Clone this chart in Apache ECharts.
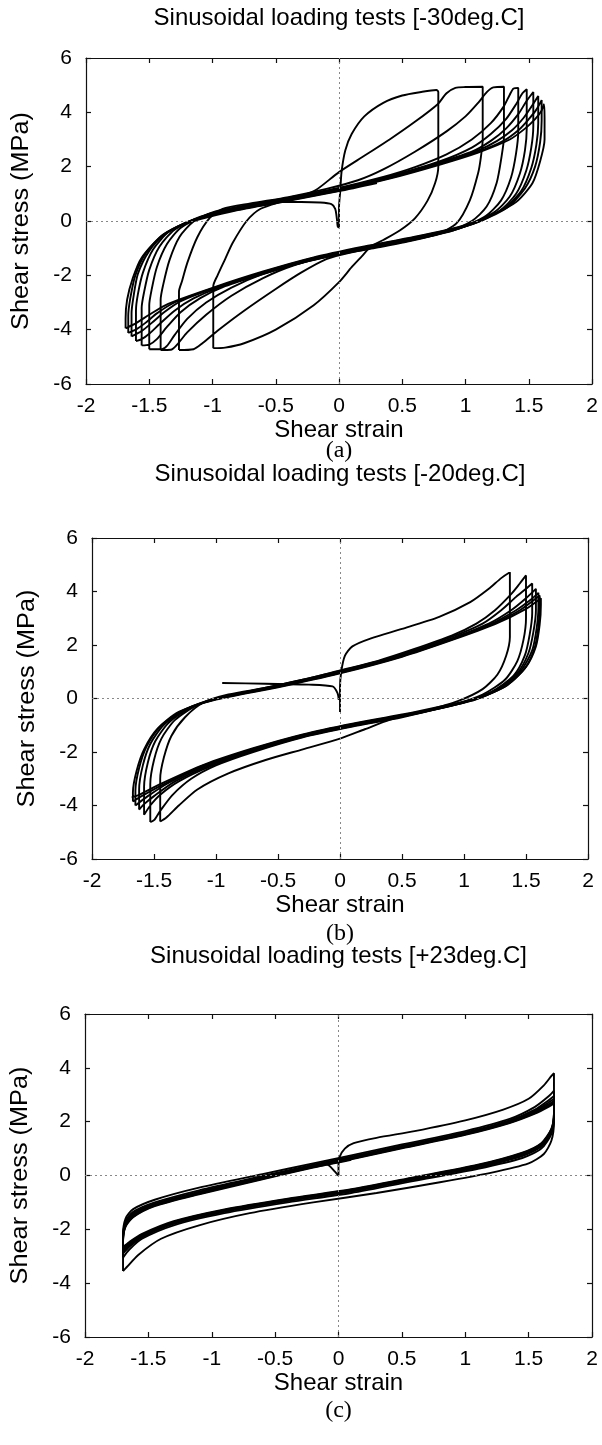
<!DOCTYPE html>
<html><head><meta charset="utf-8">
<script src="https://cdn.jsdelivr.net/npm/echarts@6/dist/echarts.min.js"></script>
<style>html,body{margin:0;padding:0;background:#fff}#c{width:602px;height:1445px}</style>
</head><body><div id="c"></div>
<script>
const panelTitles = ['Sinusoidal loading tests [-30deg.C]','Sinusoidal loading tests [-20deg.C]','Sinusoidal loading tests [+23deg.C]'];
const captions = ['(a)','(b)','(c)'];
const xAxisName = 'Shear strain';
const yAxisName = 'Shear stress (MPa)';
const xTicks = [-2,-1.5,-1,-0.5,0,0.5,1,1.5,2];
const yTicks = [-6,-4,-2,0,2,4,6];

// ---- Panel (a) -30 deg C ----
const a_hook = [[-0.47,0.7],[-0.3,0.7],[-0.15,0.68],[-0.06,0.62],[-0.03,0.45],[-0.02,0.2],[-0.015,0.0],[-0.01,-0.2],[0.0,-0.25]];
const a_c1 = [[0.0,-0.25],[0.0,0.5],[0.01,1.1],[0.02,1.8],[0.05,2.6],[0.1,3.2],[0.2,3.85],[0.35,4.35],[0.5,4.62],[0.65,4.75],[0.77,4.82],[0.785,4.75],[0.785,2.0],[0.76,1.4],[0.7,0.75],[0.6,0.1],[0.48,-0.35],[0.35,-0.7],[0.25,-0.95],[0.18,-1.3],[0.1,-1.7],[0.0,-2.25],[-0.2,-3.1],[-0.5,-4.0],[-0.75,-4.5],[-0.9,-4.66],[-0.994,-4.68]];
const a_c2 = [[-0.994,-4.68],[-0.994,-2.4],[-0.96,-2.0],[-0.9,-1.4],[-0.84,-0.8],[-0.73,0.0],[-0.62,0.45],[-0.45,0.72],[-0.3,0.92],[-0.18,1.15],[0.0,1.8],[0.2,2.4],[0.4,3.0],[0.6,3.65],[0.78,4.3],[0.85,4.7],[0.92,4.9],[1.0,4.93],[1.136,4.94],[1.136,3.0],[1.12,2.3],[1.1,1.77],[1.035,0.77],[0.93,-0.08],[0.78,-0.48],[0.55,-0.75],[0.3,-0.98],[0.1,-1.15],[-0.1,-1.4],[-0.3,-1.9],[-0.5,-2.5],[-0.75,-3.3],[-0.95,-4.0],[-1.08,-4.5],[-1.15,-4.72],[-1.265,-4.75]];
const a_c3 = [[-1.265,-4.75],[-1.265,-2.6],[-1.24,-2.2],[-1.2,-1.55],[-1.12,-0.6],[-1.02,0.12],[-0.92,0.45],[-0.7,0.65],[-0.4,0.88],[-0.1,1.18],[0.15,1.5],[0.35,1.9],[0.6,2.55],[0.85,3.3],[1.0,3.85],[1.1,4.35],[1.17,4.75],[1.22,4.92],[1.304,4.94],[1.304,3.1],[1.285,2.37],[1.246,1.4],[1.167,0.53],[1.05,0.0],[0.85,-0.4],[0.55,-0.72],[0.2,-1.05],[-0.1,-1.33],[-0.35,-1.62],[-0.6,-2.1],[-0.85,-2.75],[-1.05,-3.45],[-1.2,-4.1],[-1.28,-4.55],[-1.33,-4.74],[-1.41,-4.75]];
const a_c4 = [[-1.41,-4.75],[-1.41,-2.9],[-1.39,-2.35],[-1.34,-1.44],[-1.26,-0.58],[-1.15,-0.02],[-1.0,0.32],[-0.75,0.56],[-0.4,0.86],[0.0,1.22],[0.35,1.62],[0.6,1.98],[0.85,2.45],[1.05,3.0],[1.2,3.6],[1.3,4.2],[1.35,4.65],[1.38,4.88],[1.417,4.9],[1.417,3.3],[1.4,2.5],[1.36,1.6],[1.28,0.75],[1.15,0.15],[0.9,-0.35],[0.6,-0.68],[0.3,-0.95],[0.0,-1.22],[-0.35,-1.6],[-0.6,-1.95],[-0.85,-2.45],[-1.05,-3.0],[-1.2,-3.6],[-1.3,-4.2],[-1.36,-4.6],[-1.4,-4.72],[-1.5,-4.72]];
const a_c5 = [[-1.5,-4.72],[-1.5,-3.1],[-1.48,-2.5],[-1.44,-1.7],[-1.36,-0.85],[-1.25,-0.25],[-1.05,0.22],[-0.8,0.5],[-0.45,0.8],[0.0,1.2],[0.4,1.65],[0.8,2.2],[1.05,2.7],[1.2,3.2],[1.32,3.75],[1.4,4.3],[1.45,4.7],[1.484,4.85],[1.484,3.4],[1.47,2.6],[1.43,1.75],[1.35,0.9],[1.22,0.3],[0.95,-0.28],[0.6,-0.66],[0.2,-1.02],[-0.2,-1.42],[-0.6,-1.95],[-0.9,-2.4],[-1.1,-2.85],[-1.25,-3.35],[-1.36,-3.9],[-1.44,-4.35],[-1.5,-4.55],[-1.56,-4.58]];
const a_c6 = [[-1.56,-4.58],[-1.56,-3.2],[-1.54,-2.6],[-1.5,-1.8],[-1.42,-0.95],[-1.3,-0.32],[-1.1,0.15],[-0.8,0.48],[-0.45,0.78],[0.0,1.18],[0.4,1.63],[0.8,2.17],[1.05,2.55],[1.2,2.95],[1.32,3.4],[1.42,3.95],[1.48,4.4],[1.536,4.75],[1.536,3.5],[1.52,2.7],[1.48,1.85],[1.4,1.0],[1.27,0.38],[1.0,-0.2],[0.6,-0.64],[0.2,-1.0],[-0.2,-1.4],[-0.6,-1.93],[-0.95,-2.45],[-1.15,-2.85],[-1.3,-3.3],[-1.42,-3.8],[-1.5,-4.15],[-1.56,-4.35],[-1.605,-4.42]];
const a_c7 = [[-1.605,-4.42],[-1.605,-3.3],[-1.59,-2.7],[-1.55,-1.9],[-1.47,-1.05],[-1.34,-0.38],[-1.12,0.1],[-0.8,0.46],[-0.45,0.76],[0.0,1.16],[0.4,1.6],[0.8,2.13],[1.1,2.6],[1.25,2.95],[1.37,3.35],[1.46,3.8],[1.52,4.2],[1.575,4.6],[1.575,3.6],[1.56,2.8],[1.52,1.95],[1.44,1.1],[1.3,0.45],[1.05,-0.12],[0.6,-0.62],[0.2,-0.98],[-0.2,-1.38],[-0.6,-1.9],[-1.0,-2.5],[-1.25,-2.95],[-1.38,-3.35],[-1.48,-3.75],[-1.56,-4.05],[-1.64,-4.25]];
const a_c8 = [[-1.64,-4.25],[-1.64,-3.4],[-1.625,-2.8],[-1.59,-1.95],[-1.5,-1.1],[-1.37,-0.45],[-1.14,0.06],[-0.8,0.44],[-0.45,0.74],[0.0,1.14],[0.4,1.58],[0.8,2.1],[1.1,2.55],[1.3,2.95],[1.42,3.35],[1.5,3.75],[1.56,4.1],[1.602,4.45],[1.602,3.7],[1.59,2.9],[1.55,2.0],[1.47,1.2],[1.33,0.5],[1.08,-0.07],[0.6,-0.6],[0.2,-0.96],[-0.2,-1.36],[-0.6,-1.88],[-1.0,-2.48],[-1.3,-3.0],[-1.44,-3.4],[-1.53,-3.75],[-1.6,-3.98],[-1.666,-4.12]];
const a_c9 = [[-1.666,-4.12],[-1.666,-3.5],[-1.65,-2.85],[-1.61,-2.0],[-1.53,-1.2],[-1.39,-0.5],[-1.16,0.03],[-0.8,0.42],[-0.45,0.72],[0.0,1.12],[0.4,1.56],[0.8,2.08],[1.1,2.52],[1.35,3.0],[1.47,3.4],[1.55,3.75],[1.6,4.05],[1.62,4.3],[1.625,3.8],[1.625,3.0],[1.59,2.2],[1.53,1.4],[1.4,0.7],[1.2,0.2],[1.0,-0.15],[0.6,-0.58],[0.2,-0.94],[-0.2,-1.34],[-0.6,-1.86],[-1.0,-2.46],[-1.35,-3.05],[-1.5,-3.45],[-1.6,-3.75],[-1.687,-3.95]];
const a_c10 = [[-1.687,-3.95],[-1.687,-3.6],[-1.675,-2.9],[-1.63,-2.1],[-1.56,-1.35],[-1.4,-0.55],[-1.2,-0.08],[-0.8,0.4],[-0.45,0.7],[0.0,1.1],[0.3,1.4]];

// ---- Panel (b) -20 deg C ----
const b_hook = [[-0.95,0.58],[-0.6,0.55],[-0.25,0.52],[-0.06,0.45],[-0.02,0.2],[-0.01,-0.05]];
const b_c1 = [[0.0,-0.5],[0.0,0.4],[0.01,1.0],[0.04,1.6],[0.1,1.95],[0.25,2.25],[0.5,2.6],[0.8,3.05],[1.05,3.6],[1.2,4.1],[1.3,4.5],[1.37,4.72],[1.37,2.3],[1.34,1.6],[1.27,0.9],[1.15,0.35],[0.95,-0.1],[0.7,-0.45],[0.4,-0.8],[0.2,-1.15],[0.0,-1.5],[-0.3,-1.9],[-0.6,-2.3],[-0.9,-2.8],[-1.15,-3.4],[-1.3,-4.0],[-1.4,-4.45],[-1.45,-4.6]];
const b_c2 = [[-1.45,-4.6],[-1.45,-3.0],[-1.42,-2.2],[-1.36,-1.4],[-1.25,-0.7],[-1.1,-0.15],[-0.9,0.15],[-0.6,0.4],[-0.3,0.7],[0.0,1.05],[0.3,1.4],[0.6,1.85],[0.9,2.35],[1.1,2.8],[1.25,3.3],[1.38,3.9],[1.45,4.3],[1.5,4.6],[1.5,3.0],[1.48,2.2],[1.43,1.4],[1.33,0.7],[1.15,0.15],[0.9,-0.25],[0.5,-0.7],[0.1,-1.05],[-0.3,-1.45],[-0.7,-2.0],[-1.0,-2.5],[-1.2,-3.0],[-1.35,-3.6],[-1.45,-4.2],[-1.5,-4.55],[-1.53,-4.62]];
const b_c3 = [[-1.53,-4.62],[-1.53,-3.2],[-1.5,-2.3],[-1.44,-1.5],[-1.33,-0.8],[-1.15,-0.25],[-0.9,0.1],[-0.5,0.5],[0.0,1.03],[0.5,1.65],[0.9,2.3],[1.15,2.8],[1.3,3.3],[1.42,3.8],[1.5,4.1],[1.55,4.3],[1.55,3.2],[1.53,2.4],[1.49,1.6],[1.4,0.85],[1.22,0.25],[0.95,-0.2],[0.5,-0.68],[0.1,-1.03],[-0.3,-1.43],[-0.7,-1.97],[-1.05,-2.55],[-1.3,-3.1],[-1.45,-3.6],[-1.53,-4.0],[-1.58,-4.35]];
const b_c4 = [[-1.58,-4.35],[-1.58,-3.3],[-1.55,-2.4],[-1.49,-1.6],[-1.38,-0.9],[-1.2,-0.33],[-0.95,0.05],[-0.5,0.48],[0.0,1.0],[0.5,1.62],[0.9,2.25],[1.2,2.8],[1.38,3.3],[1.5,3.75],[1.58,4.1],[1.58,3.3],[1.56,2.5],[1.52,1.7],[1.43,0.95],[1.26,0.32],[1.0,-0.15],[0.5,-0.66],[0.1,-1.0],[-0.3,-1.4],[-0.7,-1.93],[-1.05,-2.5],[-1.33,-3.1],[-1.5,-3.65],[-1.58,-3.95],[-1.62,-4.15]];
const b_c5 = [[-1.62,-4.15],[-1.62,-3.4],[-1.59,-2.5],[-1.53,-1.7],[-1.42,-0.98],[-1.24,-0.4],[-1.0,0.0],[-0.5,0.46],[0.0,0.98],[0.5,1.6],[0.9,2.22],[1.2,2.75],[1.42,3.3],[1.54,3.7],[1.6,3.95],[1.6,3.4],[1.585,2.6],[1.55,1.8],[1.46,1.05],[1.3,0.4],[1.05,-0.1],[0.5,-0.64],[0.1,-0.98],[-0.3,-1.38],[-0.7,-1.9],[-1.1,-2.55],[-1.38,-3.15],[-1.55,-3.65],[-1.65,-4.0]];
const b_c6 = [[-1.65,-4.0],[-1.65,-3.45],[-1.62,-2.6],[-1.56,-1.8],[-1.45,-1.05],[-1.27,-0.45],[-1.0,-0.02],[-0.5,0.44],[0.0,0.96],[0.5,1.58],[0.9,2.2],[1.2,2.72],[1.45,3.3],[1.61,3.85],[1.61,3.45],[1.6,2.7],[1.57,1.9],[1.49,1.12],[1.33,0.45],[1.08,-0.05],[0.5,-0.62],[0.1,-0.96],[-0.3,-1.36],[-0.7,-1.88],[-1.1,-2.5],[-1.42,-3.2],[-1.6,-3.65],[-1.67,-3.85]];
const b_c7 = [[-1.67,-3.85],[-1.67,-3.5],[-1.64,-2.7],[-1.58,-1.9],[-1.47,-1.12],[-1.3,-0.5],[-1.0,-0.04],[-0.5,0.42],[0.0,0.94],[0.5,1.56],[0.9,2.18],[1.25,2.78],[1.5,3.35],[1.62,3.75],[1.62,3.5],[1.61,2.75],[1.58,1.95],[1.5,1.18],[1.35,0.5],[1.1,0.0],[0.5,-0.6],[0.1,-0.94],[-0.3,-1.34],[-0.7,-1.86],[-1.1,-2.48],[-1.45,-3.2],[-1.62,-3.6],[-1.68,-3.7]];

// ---- Panel (c) +23 deg C ----
const c_hook = [[-0.12,0.5],[-0.07,0.35],[-0.03,0.15],[0.0,0.0]];
const c_c1 = [[0.0,0.0],[0.0,0.4],[0.01,0.7],[0.05,1.0],[0.12,1.2],[0.3,1.4],[0.6,1.65],[1.0,2.05],[1.3,2.45],[1.5,2.85],[1.62,3.35],[1.68,3.7],[1.7,3.8],[1.7,2.0],[1.68,1.3],[1.62,0.8],[1.5,0.45],[1.2,0.1],[0.8,-0.25],[0.3,-0.65],[-0.2,-1.0],[-0.7,-1.4],[-1.1,-1.85],[-1.4,-2.35],[-1.58,-2.95],[-1.67,-3.4],[-1.7,-3.55]];
const c_c2 = [[-1.7,-3.55],[-1.7,-2.2],[-1.68,-1.6],[-1.62,-1.25],[-1.45,-0.9],[-1.1,-0.45],[-0.6,0.05],[-0.2,0.45],[0.1,0.75],[0.5,1.15],[1.0,1.65],[1.35,2.1],[1.55,2.55],[1.66,2.95],[1.7,3.15],[1.7,2.2],[1.68,1.55],[1.6,1.0],[1.45,0.65],[1.1,0.25],[0.6,-0.2],[0.1,-0.65],[-0.4,-1.0],[-0.9,-1.4],[-1.3,-1.85],[-1.55,-2.35],[-1.65,-2.75],[-1.7,-3.05]];
const c_c3 = [[-1.7,-3.05],[-1.7,-2.3],[-1.68,-1.7],[-1.62,-1.35],[-1.45,-1.0],[-1.1,-0.55],[-0.6,-0.02],[-0.2,0.4],[0.1,0.7],[0.5,1.1],[1.0,1.6],[1.35,2.05],[1.55,2.45],[1.66,2.8],[1.7,2.95],[1.7,2.25],[1.68,1.6],[1.6,1.08],[1.45,0.72],[1.1,0.3],[0.6,-0.15],[0.1,-0.6],[-0.4,-0.95],[-0.9,-1.35],[-1.3,-1.8],[-1.55,-2.3],[-1.65,-2.65],[-1.7,-2.9]];
const c_c4 = [[-1.7,-2.9],[-1.7,-2.35],[-1.68,-1.75],[-1.62,-1.4],[-1.45,-1.05],[-1.1,-0.6],[-0.6,-0.05],[-0.2,0.37],[0.1,0.67],[0.5,1.07],[1.0,1.57],[1.35,2.02],[1.55,2.4],[1.66,2.72],[1.7,2.85],[1.7,2.3],[1.68,1.65],[1.6,1.12],[1.45,0.76],[1.1,0.33],[0.6,-0.12],[0.1,-0.57],[-0.4,-0.92],[-0.9,-1.32],[-1.3,-1.77],[-1.55,-2.25],[-1.65,-2.6],[-1.7,-2.82]];
const c_c5 = [[-1.7,-2.82],[-1.7,-2.4],[-1.68,-1.8],[-1.62,-1.45],[-1.45,-1.08],[-1.1,-0.63],[-0.6,-0.08],[-0.2,0.35],[0.1,0.65],[0.5,1.05],[1.0,1.55],[1.35,2.0],[1.55,2.37],[1.66,2.65],[1.7,2.78],[1.7,2.3],[1.68,1.7],[1.6,1.15],[1.45,0.8],[1.1,0.36],[0.6,-0.1],[0.1,-0.55],[-0.4,-0.9],[-0.9,-1.3],[-1.3,-1.75],[-1.55,-2.22],[-1.65,-2.55],[-1.7,-2.75]];
const c_c6 = [[-1.7,-2.75],[-1.7,-2.42],[-1.68,-1.85],[-1.62,-1.5],[-1.45,-1.1],[-1.1,-0.66],[-0.6,-0.1],[-0.2,0.33],[0.1,0.62],[0.5,1.03],[1.0,1.53],[1.35,1.97],[1.55,2.33],[1.66,2.6],[1.7,2.72],[1.7,2.32],[1.68,1.72],[1.6,1.18],[1.45,0.83],[1.1,0.38],[0.6,-0.08],[0.1,-0.53],[-0.4,-0.88],[-0.9,-1.28],[-1.3,-1.72],[-1.55,-2.2],[-1.65,-2.5],[-1.7,-2.7]];
const c_c7 = [[-1.7,-2.7],[-1.7,-2.44],[-1.68,-1.88],[-1.62,-1.53],[-1.45,-1.12],[-1.1,-0.68],[-0.6,-0.12],[-0.2,0.31],[0.1,0.6],[0.5,1.01],[1.0,1.51],[1.35,1.95],[1.55,2.3],[1.66,2.56],[1.7,2.68],[1.7,2.34],[1.68,1.74],[1.6,1.2],[1.45,0.85],[1.1,0.4],[0.6,-0.06],[0.1,-0.51],[-0.4,-0.86],[-0.9,-1.26],[-1.3,-1.7],[-1.55,-2.17],[-1.65,-2.47],[-1.7,-2.66]];
const c_c8 = [[-1.7,-2.66],[-1.7,-2.45],[-1.68,-1.9],[-1.62,-1.55],[-1.45,-1.14],[-1.1,-0.7],[-0.6,-0.14],[-0.2,0.29],[0.1,0.58]];

const panels = [
  {title: panelTitles[0], caption: captions[0], grid: {left:86, top:58, width:506, height:326}, titleY:18, capY:451, loops:[a_hook,a_c1,a_c2,a_c3,a_c4,a_c5,a_c6,a_c7,a_c8,a_c9,a_c10]},
  {title: panelTitles[1], caption: captions[1], grid: {left:92, top:538, width:496, height:321}, titleY:474, capY:934, loops:[b_hook,b_c1,b_c2,b_c3,b_c4,b_c5,b_c6,b_c7]},
  {title: panelTitles[2], caption: captions[2], grid: {left:85, top:1014, width:507, height:323}, titleY:956, capY:1411, loops:[c_hook,c_c1,c_c2,c_c3,c_c4,c_c5,c_c6,c_c7,c_c8]}
];

const SANS = '"Liberation Sans", Arial, Helvetica, sans-serif';
const SERIF = '"Liberation Serif", "Times New Roman", serif';

const grids = [], xAxes = [], yAxes = [], series = [], graphics = [];
panels.forEach((p, i) => {
  grids.push(Object.assign({containLabel:false}, p.grid));
  const lineSt = {show:true, onZero:false, lineStyle:{color:'#111', width:1.2}};
  const tickSt = {show:true, inside:true, length:5, lineStyle:{color:'#111', width:1.2}};
  xAxes.push({gridIndex:i, type:'value', position:'bottom', min:xTicks[0], max:xTicks[xTicks.length-1], interval:0.5,
    axisLine:lineSt, axisTick:tickSt, splitLine:{show:false},
    axisLabel:{show:true, color:'#000', fontSize:21, fontFamily:SANS, margin:12},
    name:xAxisName, nameLocation:'middle', nameGap:31, nameTextStyle:{color:'#000', fontSize:24, fontFamily:SANS}});
  xAxes.push({gridIndex:i, type:'value', position:'top', min:xTicks[0], max:xTicks[xTicks.length-1], interval:0.5,
    axisLine:lineSt, axisTick:tickSt, splitLine:{show:false}, axisLabel:{show:false}});
  yAxes.push({gridIndex:i, type:'value', position:'left', min:yTicks[0], max:yTicks[yTicks.length-1], interval:2,
    axisLine:lineSt, axisTick:tickSt, splitLine:{show:false},
    axisLabel:{show:true, color:'#000', fontSize:21, fontFamily:SANS, margin:14}});
  yAxes.push({gridIndex:i, type:'value', position:'right', min:yTicks[0], max:yTicks[yTicks.length-1], interval:2,
    axisLine:lineSt, axisTick:tickSt, splitLine:{show:false}, axisLabel:{show:false}});
  // zero reference lines
  series.push({type:'line', xAxisIndex:2*i, yAxisIndex:2*i, data:[], silent:true,
    markLine:{silent:true, symbol:['none','none'], label:{show:false},
      lineStyle:{type:[2,3], color:'#888', width:1}, data:[{xAxis:0},{yAxis:0}]}});
  p.loops.forEach(loop => {
    series.push({type:'line', xAxisIndex:2*i, yAxisIndex:2*i, data:loop, showSymbol:false, symbol:'none',
      smooth:0.25, silent:true, lineStyle:{color:'#000', width:1.9}});
  });
  const cx = p.grid.left + p.grid.width/2;
  const cy = p.grid.top + p.grid.height/2;
  graphics.push({type:'text', x:cx, y:p.titleY, style:{text:p.title, font:'24px '+SANS, fill:'#000', align:'center', verticalAlign:'middle'}});
  graphics.push({type:'text', x:cx, y:p.capY, style:{text:p.caption, font:'24px '+SERIF, fill:'#000', align:'center', verticalAlign:'middle'}});
  graphics.push({type:'text', x:p.grid.left-64, y:cy, rotation:Math.PI/2, scaleX:1.1,
    style:{text:yAxisName, font:'23px '+SANS, fill:'#000', align:'center', verticalAlign:'middle'}});
});

const chart = echarts.init(document.getElementById('c'), null, {renderer:'canvas'});
chart.setOption({animation:false, backgroundColor:'#fff', grid:grids, xAxis:xAxes, yAxis:yAxes, series:series, graphic:graphics});
</script></body></html>
